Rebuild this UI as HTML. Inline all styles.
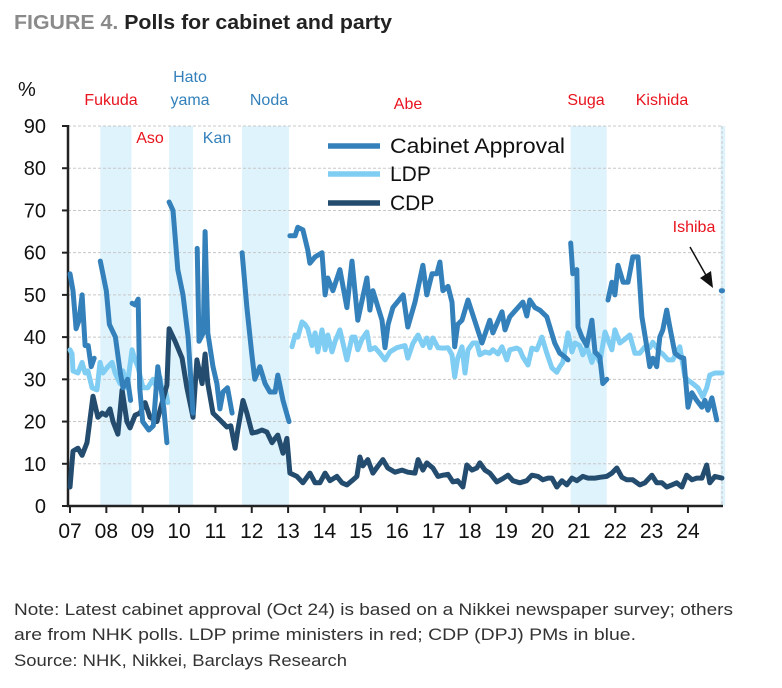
<!DOCTYPE html>
<html><head><meta charset="utf-8"><style>
body{margin:0;background:#fff;width:782px;height:683px;overflow:hidden;font-family:"Liberation Sans",sans-serif}
</style></head><body>
<svg id="chart" width="782" height="683" xmlns="http://www.w3.org/2000/svg" font-family="Liberation Sans, sans-serif">
<text x="14" y="29" font-size="20" font-weight="bold" textLength="378" lengthAdjust="spacingAndGlyphs"><tspan fill="#8a8a8a">FIGURE 4.</tspan><tspan fill="#222"> Polls for cabinet and party</tspan></text>
<text x="18" y="96" font-size="20" fill="#111">%</text>
<g id="bands"></g><g id="grid"></g><g id="axes"></g><g id="series"></g>
<g font-size="16">
<text x="111" y="105" fill="#e8141e" text-anchor="middle">Fukuda</text>
<text x="150" y="143" fill="#e8141e" text-anchor="middle">Aso</text>
<text x="190" y="82" fill="#3380ba" text-anchor="middle">Hato</text>
<text x="190" y="105" fill="#3380ba" text-anchor="middle">yama</text>
<text x="217" y="143" fill="#3380ba" text-anchor="middle">Kan</text>
<text x="269" y="105" fill="#3380ba" text-anchor="middle">Noda</text>
<text x="408" y="109" fill="#e8141e" text-anchor="middle">Abe</text>
<text x="586" y="105" fill="#e8141e" text-anchor="middle">Suga</text>
<text x="662" y="105" fill="#e8141e" text-anchor="middle">Kishida</text>
<text x="694" y="232" fill="#e8141e" text-anchor="middle">Ishiba</text>
</g>
<g>
<line x1="690" y1="247" x2="707" y2="277" stroke="#111" stroke-width="1.5"/>
<polygon points="713,288 700,278 711,271" fill="#111"/>
</g>
<g font-size="21" fill="#111">
<line x1="328" y1="146" x2="380" y2="146" stroke="#3380ba" stroke-width="5.5"/>
<text x="390" y="153" textLength="175" lengthAdjust="spacingAndGlyphs">Cabinet Approval</text>
<line x1="328" y1="174" x2="380" y2="174" stroke="#7fcdf3" stroke-width="5.5"/>
<text x="390" y="181">LDP</text>
<line x1="328" y1="203" x2="380" y2="203" stroke="#244c6e" stroke-width="5.5"/>
<text x="390" y="210">CDP</text>
</g>
<g font-size="17" fill="#333">
<text x="14" y="615" textLength="719" lengthAdjust="spacingAndGlyphs">Note: Latest cabinet approval (Oct 24) is based on a Nikkei newspaper survey; others</text>
<text x="14" y="640" textLength="622" lengthAdjust="spacingAndGlyphs">are from NHK polls. LDP prime ministers in red; CDP (DPJ) PMs in blue.</text>
<text x="14" y="666" textLength="333" lengthAdjust="spacingAndGlyphs">Source: NHK, Nikkei, Barclays Research</text>
</g>
</svg>
<script>
// months since Jan 2007
const yTicks=[0,10,20,30,40,50,60,70,80,90];
const xLabels=["07","08","09","10","11","12","13","14","15","16","17","18","19","20","21","22","23","24"];
const bandStart=[10,32.7,56.8,165.3,214.8];
const bandEnd=[20.3,40.6,72.3,177.2,216.3];
const cabinetMonths=[
[0,1,2,3,4,5,6,7,8],
[10,12,13,15,16.5,17.5,19,20],
[20.5,21.5,22.5,23,24,26,27.5,29,30,31,32],
[32.7,34,35.6,37.3,39,40.6],
[42,42.6,44,44.6,45.5,47.2,48.5,49.5,50.5,52,53.5],
[56.8,58.4,60,61,62.7,64.4,66,67.7,68.6,70.3,72.3],
[72.6,74.3,75.2,76.9,78.5,79.2,80.9,83.2,84.2,85.1,86.8,89.1,91.4,93.1,95,98,99,100,103,104,105,106.6,110,111.5,113.9,116.5,117.8,119.5,121.1,122.1,123.1,124.8,126.1,127,128,129.4,131.4,134.3,136,138.6,139.6,142.6,143.6,145.2,147.9,149.5,150.8,151.8,153.5,155.1,157.4,160,161.7,163.4,164.4],
[165.3,166,167.3,167.7,169,170.6,172.3,173.3,174.9,175.9,177.2],
[177.6,178.9,179.9,180.9,182.6,184.2,185.8,187.5,188.8,190.4,191.4,192.4,193.7,194.7,195.7,197,198,199.7,201.3,202.6,204,205.3,206.9,208.6,209.6,210.6,211.9,213.5],
[215.0,215.4]];
const cabinetValues=[
[55,51,42,44,50,38,38,33,35],
[58,51,43,40,32,28,30,25],
[48,47.6,49,28,20,18,19,33,28,23,15],
[72,70,56,50,40,22],
[61,39,41,65,41,33,29,23,27,28,22],
[60,47,36,30,33,29,27,27,31,25,20],
[64,64,66,65.4,60.6,57.5,59,60,50,54,51,56,47,58,44,54,46.4,51,44,37.5,43,47,50,42.4,48.3,57,50,55,55,57.8,51,52,48.3,37.7,43,44,48.8,42.4,38.6,44,41,46,41.7,44.8,47,48.3,45,48.8,47,46.4,44.8,38.6,36.2,35.3,34.6],
[62.3,55,56,42.4,40,38,44,36.5,35.3,29,30],
[48.8,53,50,57,53,53,59,59,44.8,37.7,33,35,33,40,41.7,46.4,42.4,36.2,35.3,35,23.4,26.8,25,23.4,25,22.7,25.6,20.4],
[51,51]];
const ldpMonths=[
[0,0.7,1,2.6,4,5,5.9,7.3,8.9,9.9,10.9,12.5,13.9,14.9,16.5,17.5,18.8,20.5,21.5,22.4,24.1,25.7,27.4,28.7,29.7,30.7,31.4,32.3],
[73.3,74.3,75.2,76.6,77.6,78.5,79.9,80.9,81.8,83.2,84.2,85.1,86.5,87.5,89.1,91.4,93.1,94.1,95,96.4,98,99,100.7,102.3,104,105.6,107.9,110.6,111.5,113.2,114.9,116.5,117.8,118.8,119.8,121.5,123.1,124.8,126.1,127,128,129.4,130.4,131.4,133,134.3,135.3,137,138.6,139.6,141.3,142.6,144.2,145.2,147.5,148.5,149.5,151.2,152.5,154.1,155.8,157.4,159.1,160.7,161.7,162.7,164.4,165.7,166.7,168.3,169.3,170.6,172.3,173.3,174.9,176.6,178.9,179.9,181.5,183.2,184.8,186.5,188.1,189.8,191.4,192.4,193.7,194.7,195.7,197.4,199,201.3,203,204,205.6,207.3,208.9,210.2,211.2,212.9,215.2]];
const ldpValues=[
[37,36,32,31.5,34,31.5,32,28,27.5,34,31.5,33,34,31.5,29,32,28,37,34.5,33,28,28,30,28,30.5,26,28,24.5],
[37.7,40.5,40,43.6,43,42,38,41,36.5,41.7,37,40.5,36.5,39,41.7,34.6,40,40,37,39.5,41.2,37,37.5,36.2,34.6,36.5,37.5,38,35,38.5,40.5,38,39.8,37.5,39.8,37.5,37.4,37.5,35.8,30.6,35,37.7,31.5,37,38.6,38.6,35.8,36.5,36.2,37,36,37.7,34.6,37,37.4,37,35.3,33.4,37.4,37,40,36.2,32.7,31.7,33,34,41,36.5,38.6,38,35.8,37.7,34,36.5,34,41.2,37,41.7,38.6,39.5,40.5,36.2,36.2,37.7,37.5,38.8,37.5,36.5,36,34.6,34.6,37.7,30.6,29.8,29,28,25.8,28,31,31.5,31.5]];
const cdpMonths=[[0,1,2.6,4,5.6,7.6,9.2,10.6,11.9,13.2,14.2,15.8,17.2,18.8,19.8,21.5,23.1,24.8,26.4,28.7,30.4,32,32.7,34.7,37,38.6,40.6,41.9,43.6,44.6,45.5,47.2,49.5,51.8,53.1,54.5,55.4,57.1,58.4,60.1,61.7,63.4,65,66.7,67.7,68.6,70.3,71.6,72.6,74.9,
76.9,79.2,80.9,82.5,84.2,85.8,88.1,89.8,91.4,93.1,94.7,95.7,96.7,98.3,100,101.7,103.3,104.9,107.3,109.6,111.5,113.9,114.9,116.5,117.8,119.8,121.5,123.1,124.8,126.4,128,129.7,131,132.7,134.3,135.3,137,138.6,140.9,142.9,144.6,146.2,148.5,150.8,152.5,154.5,156.1,157.8,159.1,160.7,162.4,164,165.7,167.3,169.3,171,173.3,174.9,177.2,178.9,180.5,182.2,183.8,185.8,188.1,189.8,192.1,193.7,195.4,197,198.7,200.3,202,203.6,205.3,206.9,208.6,210.2,211.2,212.9,215.2]];
const cdpValues=[[4.5,13,13.7,12,15,26,21,22,21.5,23,20,17,27.5,20,18.5,21.5,22,24.5,21,20,24.5,28.6,42,39,35,28,21,34.6,29,36,29,22,20.4,18.7,19,13.7,18,25,22,17.3,17.5,18,17.5,15,16,16.8,12.5,16,7.8,7,
5.5,7.8,5.5,5.5,7.8,6,7,5.5,5,6,7,11.6,9.5,11,7.8,9.5,11,9,8,8.5,8,7.8,11,8.5,10.2,9,7,7.3,7.5,5.7,6,4.5,9.7,8.5,9,10.2,8.5,7.8,5.7,6.5,7.3,6,5.5,6,7.3,7,6.2,6.6,6.6,4.5,6,5,6.6,6,7,6.6,6.6,6.8,7,7.8,9,6.8,6.2,6.2,5,5.5,7.3,5.5,5.5,4.5,5,5.5,4.5,7.3,6.2,6.6,6.6,9.7,5.5,7,6.6]];

const NS="http://www.w3.org/2000/svg";
const X0=70,PXM=36.35/12,Y0=506,PXV=380/90;
const xs=m=>X0+m*PXM, ys=v=>Y0-v*PXV;
function mk(tag,attrs,parent){const e=document.createElementNS(NS,tag);for(const k in attrs)e.setAttribute(k,attrs[k]);parent.appendChild(e);return e;}
const bands=document.getElementById('bands'),grid=document.getElementById('grid'),axes=document.getElementById('axes'),series=document.getElementById('series');
bandStart.forEach((s,i)=>{const r=mk('rect',{x:xs(s),y:ys(90),width:xs(bandEnd[i])-xs(s),height:Y0-ys(90),fill:'#dff3fc'},bands);

});
yTicks.forEach(v=>{if(v>0){const g=mk('line',{x1:68,x2:722,y1:ys(v),y2:ys(v),stroke:'#c8c8c8','stroke-width':1,'stroke-dasharray':'3,2'},grid);

}
mk('line',{x1:62,x2:68,y1:ys(v),y2:ys(v),stroke:'#222','stroke-width':2},axes);
const t=mk('text',{x:46,y:ys(v)+7,'text-anchor':'end','font-size':20,fill:'#111'},axes);t.textContent=v;

});
mk('line',{x1:722,x2:722,y1:ys(90),y2:Y0,stroke:'#c8c8c8','stroke-width':1,'stroke-dasharray':'3,2'},grid);
xLabels.forEach((l,i)=>{const x=xs(i*12);mk('line',{x1:x,x2:x,y1:Y0,y2:Y0+7,stroke:'#222','stroke-width':2},axes);
const t=mk('text',{x:x,y:538,'text-anchor':'middle','font-size':21,fill:'#111'},axes);t.textContent=l;

});
const ya=mk('line',{x1:68,x2:68,y1:ys(90)-1,y2:Y0+1,stroke:'#222','stroke-width':2.5},axes);


const xa=mk('line',{x1:67,x2:723,y1:Y0,y2:Y0,stroke:'#222','stroke-width':2.5},axes);


function draw(months,values,color,name){months.forEach((ms,i)=>{const d=ms.map((m,j)=>(j?'L':'M')+xs(m).toFixed(1)+','+ys(values[i][j]).toFixed(1)).join('');
const p=mk('path',{d:d,fill:'none',stroke:color,'stroke-width':5,'stroke-linejoin':'round','stroke-linecap':'round'},series);

});}
draw(ldpMonths,ldpValues,'#7fcdf3','ldp-line');
draw(cdpMonths,cdpValues,'#244c6e','cdp-line');
draw(cabinetMonths,cabinetValues,'#3380ba','cabinet-approval-line');
</script>
</body></html>
